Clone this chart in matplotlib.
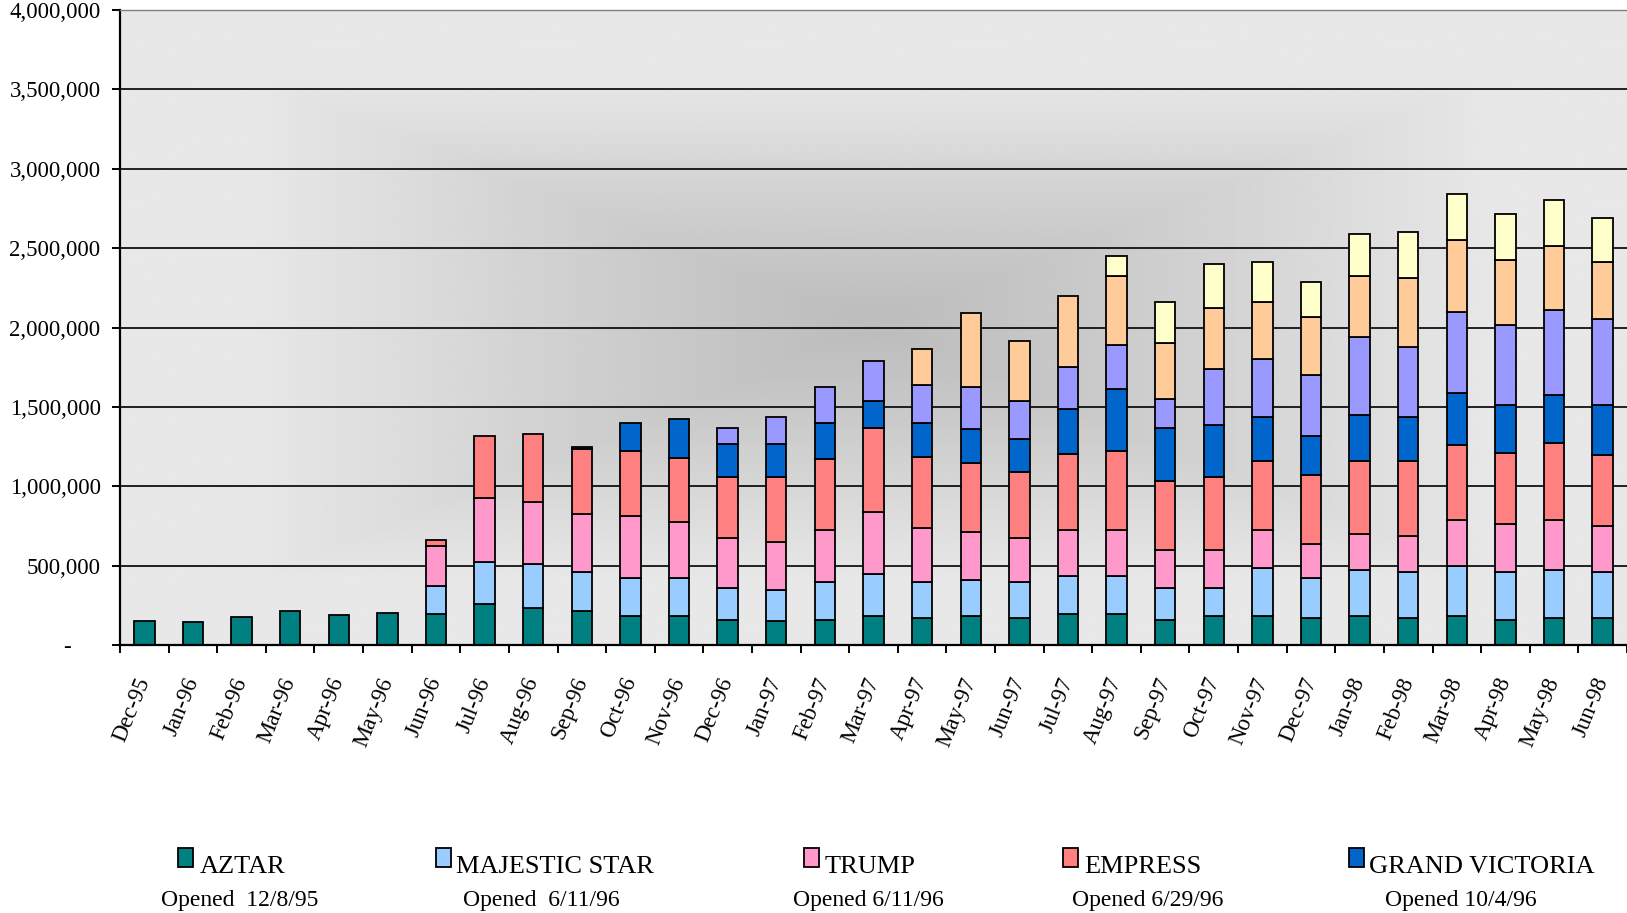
import numpy as np
import matplotlib
matplotlib.use('Agg')
import matplotlib.pyplot as plt
from matplotlib import ticker
from matplotlib.patches import Rectangle

plt.rcParams['font.family'] = ['Liberation Serif', 'DejaVu Serif']

# monthly admissions
months = ['Dec-95', 'Jan-96', 'Feb-96', 'Mar-96', 'Apr-96', 'May-96', 'Jun-96',
          'Jul-96', 'Aug-96', 'Sep-96', 'Oct-96', 'Nov-96', 'Dec-96', 'Jan-97',
          'Feb-97', 'Mar-97', 'Apr-97', 'May-97', 'Jun-97', 'Jul-97', 'Aug-97',
          'Sep-97', 'Oct-97', 'Nov-97', 'Dec-97', 'Jan-98', 'Feb-98', 'Mar-98',
          'Apr-98', 'May-98', 'Jun-98']

aztar = [150000, 148000, 175000, 212000, 187000, 200000, 196000, 260000, 235000,
         212000, 185000, 185000, 160000, 150000, 160000, 185000, 172000, 185000,
         172000, 198000, 196000, 158000, 183000, 183000, 171000, 183000, 171000,
         183000, 158000, 171000, 171000]
majestic_star = [0, 0, 0, 0, 0, 0, 177000, 261000, 276000, 249000, 236000, 236000,
                 200000, 198000, 238000, 263000, 226000, 225000, 226000, 238000,
                 240000, 204000, 179000, 305000, 254000, 292000, 291000, 317000,
                 304000, 304000, 288000]
trump = [0, 0, 0, 0, 0, 0, 252000, 403000, 388000, 363000, 392000, 352000, 315000,
         298000, 327000, 390000, 340000, 301000, 277000, 289000, 287000, 236000,
         236000, 235000, 211000, 223000, 224000, 286000, 299000, 311000, 291000]
empress = [0, 0, 0, 0, 0, 0, 36000, 390000, 427000, 411000, 411000, 403000, 386000,
           415000, 447000, 526000, 449000, 438000, 413000, 476000, 501000, 438000,
           463000, 437000, 438000, 462000, 474000, 474000, 449000, 486000, 449000]
grand_victoria = [0, 0, 0, 0, 0, 0, 0, 0, 0, 15000, 175000, 250000, 203000, 203000,
                  227000, 173000, 212000, 213000, 211000, 288000, 386000, 328000,
                  326000, 277000, 240000, 289000, 277000, 329000, 302000, 303000,
                  313000]
argosy = [0, 0, 0, 0, 0, 0, 0, 0, 0, 0, 0, 0, 100000, 175000, 226000, 250000,
          238000, 263000, 238000, 261000, 279000, 184000, 350000, 363000, 386000,
          489000, 438000, 511000, 501000, 538000, 540000]
showboat = [0, 0, 0, 0, 0, 0, 0, 0, 0, 0, 0, 0, 0, 0, 0, 0, 227000, 465000, 375000,
            450000, 436000, 352000, 388000, 363000, 363000, 387000, 438000, 451000,
            413000, 400000, 361000]
blue_chip = [0, 0, 0, 0, 0, 0, 0, 0, 0, 0, 0, 0, 0, 0, 0, 0, 0, 0, 0, 0, 126000,
             263000, 276000, 250000, 225000, 263000, 288000, 288000, 288000, 288000,
             277000]

legend_names = ['AZTAR', 'MAJESTIC STAR', 'TRUMP', 'EMPRESS', 'GRAND VICTORIA']
legend_opened = ['Opened  12/8/95', 'Opened  6/11/96', 'Opened 6/11/96',
                 'Opened 6/29/96', 'Opened 10/4/96']

series = [aztar, majestic_star, trump, empress, grand_victoria, argosy, showboat, blue_chip]
colors = ['#008080', '#99CCFF', '#FF99CC', '#FF8080', '#0066CC', '#9999FF', '#FFCC99', '#FFFFCC']

W, H = 1627, 913
fig = plt.figure(figsize=(W / 100, H / 100), dpi=100)
ax = fig.add_axes([120 / W, 1 - 645 / H, 1 - 120 / W, (645 - 10) / H])

# grey rectangular gradient behind the bars
gx = np.linspace(0, 1, 500)
gy = np.linspace(0, 1, 300)
GX, GY = np.meshgrid(gx, gy)
t = np.maximum(np.abs(GX - 0.5) / 0.52, np.abs(GY - 0.5) / 0.5)
shade = 188 + 44 * np.clip(t / 0.8, 0, 1) ** 1.1
ax.imshow(shade, cmap='gray', vmin=0, vmax=255, extent=[0, 1, 0, 1],
          transform=ax.transAxes, aspect='auto', origin='lower',
          interpolation='bilinear', zorder=0)

x = np.arange(len(months))
bottom = np.zeros(len(months))
for vals, col in zip(series, colors):
    vals = np.array(vals, dtype=float)
    m = vals > 0
    ax.bar(x[m], vals[m], width=0.42, bottom=bottom[m], color=col,
           edgecolor='black', linewidth=1.3, zorder=2)
    bottom += vals

ax.set_xlim(-0.5, len(months) - 0.5)
ax.set_ylim(0, 4000000)

ax.set_yticks(np.arange(0, 4000001, 500000))
ax.yaxis.set_major_formatter(ticker.FuncFormatter(
    lambda v, p: '-     ' if v == 0 else f'{v:,.0f}'))
ax.yaxis.grid(True, color='black', linewidth=1.2)
ax.set_axisbelow(True)
ax.tick_params(axis='y', direction='out', length=6, width=1.4, pad=8,
               labelsize=16.5, colors='black')

ax.set_xticks(x)
ax.set_xticklabels(months, rotation=68, ha='right', va='center',
                   rotation_mode='anchor', fontsize=16.5)
ax.set_xticks(np.arange(-0.5, len(months)), minor=True)
ax.tick_params(axis='x', which='major', length=0, pad=24)
ax.tick_params(axis='x', which='minor', direction='out', length=6, width=1.4)

for s in ['left', 'bottom']:
    ax.spines[s].set_linewidth(1.6)
ax.spines['right'].set_visible(False)
ax.spines['top'].set_color('#808080')
ax.spines['top'].set_linewidth(1.0)

# legend along the bottom, with opening dates
key_x = [178, 436, 804, 1063, 1349]
name_x = [200, 456, 825, 1084, 1369]
opened_x = [240, 541, 868, 1148, 1461]
for i, name in enumerate(legend_names):
    fig.patches.append(Rectangle((key_x[i] / W, 1 - 867 / H), 15 / W, 19 / H,
                                 transform=fig.transFigure, facecolor=colors[i],
                                 edgecolor='black', linewidth=1.3))
    fig.text(name_x[i] / W, 1 - 873 / H, name, fontsize=19, va='baseline', ha='left')
    fig.text(opened_x[i] / W, 1 - 906 / H, legend_opened[i], fontsize=17,
             va='baseline', ha='center')

fig.savefig('out.png', dpi=100)
